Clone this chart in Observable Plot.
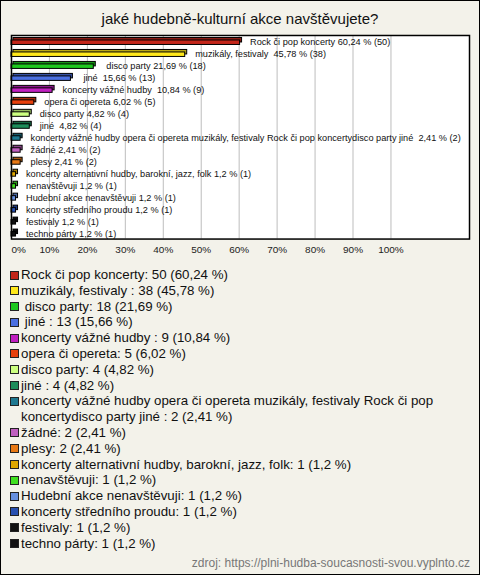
<!DOCTYPE html>
<html><head><meta charset="utf-8">
<script src="https://cdn.jsdelivr.net/npm/d3@7"></script>
<script src="https://cdn.jsdelivr.net/npm/@observablehq/plot@0.6"></script>
<style>
body{margin:0;background:#fff;}
#box{position:relative;width:480px;height:575px;box-sizing:border-box;border:1px solid #000;background:#f3f2ea;font-family:"Liberation Sans",Arial,sans-serif;overflow:hidden;}
#title{position:absolute;left:0;width:478px;top:9px;text-align:center;font-size:15px;color:#111;}
#chart{position:absolute;left:-1px;top:29px;}
#chart text{white-space:pre;}
#legend{position:absolute;left:9px;top:266px;width:450px;font-size:13.3px;line-height:15.8px;color:#111;}
.item{display:flex;align-items:flex-start;}
.sw{flex:none;width:7px;height:7px;border:1px solid #222;margin:3.5px 2px 0 0;}
.tx{white-space:pre-wrap;}
#caption{position:absolute;right:9px;top:555px;font-size:12px;color:#777;}
</style>
</head><body>
<div id="box">
  <div id="title"></div>
  <div id="chart"></div>
  <div id="legend"></div>
  <div id="caption"></div>
</div>
<script>
const title = "jaké hudebně-kulturní akce navštěvujete?";
const caption = "zdroj: https://plni-hudba-soucasnosti-svou.vyplnto.cz";
const names = [
  "Rock či pop koncerty",
  "muzikály, festivaly ",
  " disco party",
  " jiné ",
  "koncerty vážné hudby ",
  "opera či opereta",
  "disco party",
  "jiné ",
  "koncerty vážné hudby opera či opereta muzikály, festivaly Rock či pop koncertydisco party jiné ",
  "žádné",
  "plesy",
  "koncerty alternativní hudby, barokní, jazz, folk",
  "nenavštěvuji",
  "Hudební akce nenavštěvuji",
  "koncerty středního proudu",
  "festivaly",
  "techno párty"
];
const counts = [50, 38, 18, 13, 9, 5, 4, 4, 2, 2, 2, 1, 1, 1, 1, 1, 1];
const percents = [60.24, 45.78, 21.69, 15.66, 10.84, 6.02, 4.82, 4.82, 2.41, 2.41, 2.41, 1.2, 1.2, 1.2, 1.2, 1.2, 1.2];
const colors = [
  "#c3261a", "#ffe81a", "#1ec81e", "#4a6fe0", "#c020c0", "#e8400c", "#ccff80", "#1e8c5a",
  "#1e7890", "#c060c0", "#e87814", "#e0a800", "#40e020", "#6690e0", "#2850b0", "#111111", "#111111"
];
const tickValues = [0, 10, 20, 30, 40, 50, 60, 70, 80, 90, 100];

const fmt = p => String(p).replace(".", ",");
const rows = names.map((name, i) => ({
  i, name, n: counts[i], p: percents[i], color: colors[i],
  dark: d3.color(colors[i]).darker(0.9).formatHex(),
  label: `${name} ${fmt(percents[i])} % (${counts[i]})`
}));

document.getElementById("title").textContent = title;
document.getElementById("caption").textContent = caption;

const chart = Plot.plot({
  width: 480, height: 235,
  marginLeft: 11, marginRight: 10, marginTop: 5, marginBottom: 26,
  x: {domain: [0, 120.7], label: null},
  y: {domain: rows.map(d => d.i), type: "band", padding: 0, axis: null, label: null},
  color: {type: "identity"},
  style: {background: "transparent", fontFamily: "Liberation Sans, Arial, sans-serif", overflow: "visible"},
  marks: [
    Plot.frame({fill: "white", stroke: null}),
    Plot.gridX(tickValues.slice(1), {stroke: "#bdbdbd", strokeOpacity: 1}),
    Plot.barX(rows, {x: "p", y: "i", fill: "dark", stroke: "#000", strokeWidth: 1, insetTop: 5, insetBottom: 2.5, dx: 2, dy: -2.5}),
    Plot.barX(rows, {x: "p", y: "i", fill: "color", stroke: "#000", strokeWidth: 1, insetTop: 5, insetBottom: 2.5}),
    Plot.text(rows, {x: "p", y: "i", text: "label", textAnchor: "start", dx: 10, dy: 0.5, fontSize: 9.2, fill: "#111"}),
    Plot.frame({stroke: "#000", strokeWidth: 1.5}),
    Plot.axisX(tickValues.slice(1), {tickFormat: d => d + "%", tickSize: 0, tickPadding: 7, fontSize: 10, fill: "#222"}),
    Plot.axisX(tickValues.slice(0, 1), {tickFormat: d => d + "%", tickSize: 0, tickPadding: 7, fontSize: 10, fill: "#222", textAnchor: "start"})
  ]
});
document.getElementById("chart").appendChild(chart);

const legend = document.getElementById("legend");
rows.forEach(d => {
  const item = document.createElement("div");
  item.className = "item";
  const sw = document.createElement("span");
  sw.className = "sw";
  sw.style.background = d.color;
  const tx = document.createElement("span");
  tx.className = "tx";
  tx.textContent = `${d.name}: ${d.n} (${fmt(d.p)} %)`;
  item.appendChild(sw);
  item.appendChild(tx);
  legend.appendChild(item);
});
</script>
</body></html>
